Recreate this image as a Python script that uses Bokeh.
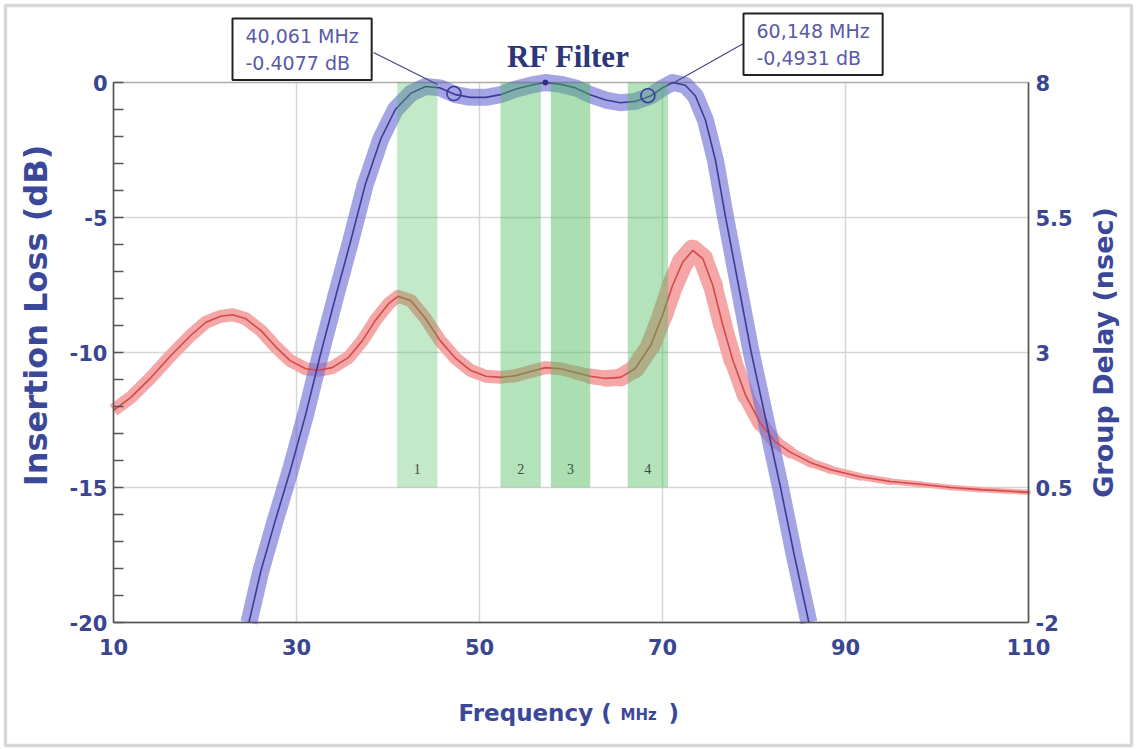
import numpy as np
from bokeh.plotting import figure
from bokeh.models import (Range1d, LinearAxis, FixedTicker, Label, Arrow,
                          BoxAnnotation, NumeralTickFormatter)
from bokeh.core.properties import value
from bokeh.embed import file_html
from bokeh.resources import INLINE

# ---------------- data ----------------
# Insertion loss (dB) vs frequency (MHz)
freq_il = [24.8, 26.1, 27.7, 29.3, 31.0, 32.6, 34.3, 35.9, 37.5, 39.2, 40.8,
           42.5, 44.1, 45.7, 47.4, 49.0, 50.7, 52.3, 53.9, 55.6, 57.2, 58.9,
           60.5, 62.1, 63.8, 65.4, 67.0, 68.7, 70.0, 71.1, 72.5, 73.6, 74.7,
           75.8, 76.9, 78.3, 79.7, 81.3, 82.9, 84.4, 86.0]
il_db = [-20.0, -18.1, -16.2, -14.4, -12.3, -10.1, -7.9, -5.9, -3.8, -2.1, -1.0,
         -0.4, -0.15, -0.2, -0.45, -0.55, -0.55, -0.45, -0.25, -0.1, 0.0, -0.07,
         -0.2, -0.45, -0.65, -0.75, -0.7, -0.5, -0.2, 0.0, -0.1, -0.5, -1.4,
         -2.9, -5.0, -7.5, -10.0, -12.5, -15.0, -17.5, -20.0]

# Group delay (nsec) vs frequency (MHz)
freq_gd = [10.0, 11.9, 14.0, 16.2, 18.4, 20.1, 21.7, 23.0, 24.4, 26.1, 27.7,
           29.3, 31.0, 32.4, 33.9, 35.7, 37.2, 38.6, 40.1, 41.1, 42.5, 44.1,
           45.7, 47.4, 49.0, 50.7, 52.3, 53.9, 55.6, 57.2, 58.9, 60.5, 62.1,
           63.8, 65.4, 67.0, 68.7, 70.0, 71.1, 72.2, 73.3, 74.4, 75.5, 76.6,
           77.7, 79.1, 80.7, 82.3, 84.0, 86.2, 88.4, 91.6, 94.9, 98.2, 101.5,
           104.8, 108.0, 110.0]
gd_ns = [1.93, 2.17, 2.52, 2.93, 3.31, 3.56, 3.67, 3.70, 3.63, 3.41, 3.11,
         2.85, 2.70, 2.67, 2.72, 2.91, 3.22, 3.59, 3.91, 4.04, 3.96, 3.63,
         3.22, 2.89, 2.67, 2.56, 2.54, 2.57, 2.65, 2.72, 2.70, 2.63, 2.56,
         2.52, 2.54, 2.70, 3.13, 3.69, 4.24, 4.67, 4.89, 4.74, 4.24, 3.50,
         2.85, 2.20, 1.69, 1.35, 1.15, 0.96, 0.83, 0.70, 0.61, 0.56, 0.50,
         0.46, 0.43, 0.41]

# Channel bands
band_start = [41.0, 52.3, 57.8, 66.2]
band_end = [45.4, 56.7, 62.1, 70.6]
band_top = [0, 0, 0, 0]
band_bottom = [-15, -15, -15, -15]
band_names = ["1", "2", "3", "4"]
band_label_db = -14.3

# Markers
marker_freq = [47.2, 68.4]
marker_db = [-0.41, -0.49]
marker_text = ["40,061 MHz\n-0.4077 dB", "60,148 MHz\n-0,4931 dB"]
peak_freq = [57.2]
peak_db = [0.0]

# Axes
x_ticks = [10, 30, 50, 70, 90, 110]
il_ticks = [0, -5, -10, -15, -20]
il_minor = [-1, -2, -3, -4, -6, -7, -8, -9, -11, -12, -13, -14, -16, -17, -18, -19]
gd_ticks = [8, 5.5, 3, 0.5, -2]
il_limits = (-20, 0)
gd_limits = (-2, 8)
x_limits = (10, 110)

# ---------------- layout ----------------
# the plotting frame covers the whole canvas; axes are pinned with fixed_location
W, H = 1136, 749
FL, FR, FT, FB = 113, 1028, 82, 622   # canvas pixels of the data box
PX_PER_DB = (FB - FT) / (il_limits[1] - il_limits[0])
PX_PER_MHZ = (FR - FL) / (x_limits[1] - x_limits[0])
gd_scale = (gd_limits[1] - gd_limits[0]) / (il_limits[1] - il_limits[0])


def cx(X):
    """canvas pixel column -> MHz"""
    return x_limits[0] + (X - FL) / PX_PER_MHZ


def cy(Y):
    """canvas pixel row -> dB"""
    return il_limits[1] - (Y - FT) / PX_PER_DB


def to_gd(db):
    return gd_limits[1] + (db - il_limits[1]) * gd_scale


LABEL_COL = "#3b4899"
TICK_COL = "#3a4690"
AX_COL = "#555555"

p = figure(width=W, height=H, x_range=Range1d(cx(0), cx(W)),
           y_range=Range1d(cy(H), cy(0)),
           output_backend="svg", toolbar_location=None, min_border=0,
           background_fill_color="white", border_fill_color="white")
p.title.visible = False
p.extra_y_ranges = {"gd": Range1d(to_gd(cy(H)), to_gd(cy(0)))}
p.outline_line_color = None

lax = p.left[0]
bax = p.below[0]
rax = LinearAxis(y_range_name="gd")
p.add_layout(rax, "right")

bax.ticker = FixedTicker(ticks=x_ticks)
bax.formatter = NumeralTickFormatter(format="0")
bax.fixed_location = il_limits[0]
bax.bounds = x_limits

lax.ticker = FixedTicker(ticks=il_ticks, minor_ticks=il_minor)
lax.formatter = NumeralTickFormatter(format="0")
lax.fixed_location = x_limits[0]
lax.bounds = il_limits

rax.ticker = FixedTicker(ticks=gd_ticks)
rax.formatter = NumeralTickFormatter(format="0.[0]")
rax.fixed_location = x_limits[1]
rax.bounds = gd_limits

for ax in (bax, lax, rax):
    ax.major_label_text_font = "DejaVu Sans"
    ax.major_label_text_font_style = "bold"
    ax.major_label_text_font_size = "21px"
    ax.major_label_text_color = TICK_COL
    ax.axis_line_color = AX_COL
    ax.axis_line_width = 1.5
    ax.major_tick_out = 0
    ax.minor_tick_out = 0

bax.major_tick_in = 0
bax.minor_tick_in = 0
bax.minor_tick_line_color = None
bax.major_label_standoff = 16

lax.major_tick_in = 10
lax.minor_tick_in = 10
lax.major_tick_line_color = AX_COL
lax.minor_tick_line_color = AX_COL
lax.major_tick_line_width = 1.5
lax.minor_tick_line_width = 1.5
lax.major_label_standoff = 6

rax.major_tick_in = 0
rax.minor_tick_line_color = None
rax.major_label_standoff = 7

p.xgrid.grid_line_color = "#d6d6d6"
p.xgrid.grid_line_width = 1.5
p.xgrid.cross_bounds = il_limits
p.ygrid.grid_line_color = "#d6d6d6"
p.ygrid.grid_line_width = 1.5
p.ygrid.cross_bounds = x_limits

# box around the data area and outer picture frame
p.add_layout(BoxAnnotation(left=x_limits[0], right=x_limits[1],
                           bottom=il_limits[0], top=il_limits[1],
                           fill_alpha=0, line_color=AX_COL, line_width=1.5))
p.add_layout(BoxAnnotation(left=cx(5), right=cx(W - 5), top=cy(5), bottom=cy(H - 4),
                           fill_alpha=0, line_color="#7a7a7a", line_width=3.5))

# ---------------- glyphs ----------------
f = np.array(freq_gd)
g = np.array(gd_ns)
# halo: constant part as one path (clean end at the left axis), tapering part as segments
k = int(np.searchsorted(f, 60.0))
p.line(f[:k + 1], g[:k + 1], y_range_name="gd", line_color="#f5a6a6",
       line_width=13, line_join="round", line_cap="butt")
ft, gt = f[k:], g[k:]
mid = (ft[:-1] + ft[1:]) / 2
halo_w = np.interp(mid, [60, 66, 72, 78, 86, 96, 110], [13, 18, 22, 18, 9, 6, 5])
p.segment(x0=ft[:-1], y0=gt[:-1], x1=ft[1:], y1=gt[1:], y_range_name="gd",
          line_color="#f5a6a6", line_width=halo_w, line_cap="round")

p.line(freq_il, il_db, line_color="#6e6ed6", line_alpha=0.62, line_width=17,
       line_join="round", line_cap="butt")

p.line(freq_gd, gd_ns, y_range_name="gd", line_color="#d24a4a", line_width=1.6)
p.line(freq_il, il_db, line_color="#3c3c98", line_width=1.6)

p.quad(left=band_start, right=band_end, top=band_top, bottom=band_bottom,
       fill_color="#4cbb5c", fill_alpha=[0.33, 0.42, 0.47, 0.42], line_color=None)
p.text(x=[(a + b) / 2 for a, b in zip(band_start, band_end)],
       y=[band_label_db] * 4, text=band_names,
       text_font=value("Liberation Serif"), text_font_size="14px",
       text_color="#3d4d44", text_align="center", text_baseline="middle")

p.scatter(marker_freq, marker_db, marker="circle", size=14, fill_alpha=0,
          line_color="#3c3ca0", line_width=1.6)
p.scatter(peak_freq, peak_db, marker="circle", size=5, fill_color="#2a2a80",
          line_color="#2a2a80")

# ---------------- text annotations ----------------
p.add_layout(Label(x=cx(568), y=cy(56), text="RF Filter",
                   text_align="center", text_baseline="middle",
                   text_font="Liberation Serif", text_font_style="bold",
                   text_font_size="31px", text_color="#2c3679"))

p.add_layout(Label(x=cx(35), y=cy(315), text="Insertion Loss (dB)", angle=np.pi / 2,
                   text_align="center", text_baseline="middle",
                   text_font="DejaVu Sans", text_font_style="bold",
                   text_font_size="32px", text_color=LABEL_COL))
p.add_layout(Label(x=cx(1103), y=cy(352), text="Group Delay (nsec)", angle=np.pi / 2,
                   text_align="center", text_baseline="middle",
                   text_font="DejaVu Sans", text_font_style="bold",
                   text_font_size="27px", text_color=LABEL_COL))

for txt, X, Y, size in [("Frequency (", 458, 712, "23px"), ("MHz", 620, 714, "15px"),
                        (")", 668, 712, "23px")]:
    p.add_layout(Label(x=cx(X), y=cy(Y), text=txt, text_align="left",
                       text_baseline="middle", text_font="DejaVu Sans",
                       text_font_style="bold", text_font_size=size,
                       text_color=LABEL_COL))

leaders = [((373, 52), (437, 84)), ((743, 43), (672, 83))]
for (lx0, ly0), (lx1, ly1) in leaders:
    p.add_layout(Arrow(end=None, x_start=cx(lx0), y_start=cy(ly0),
                       x_end=cx(lx1), y_end=cy(ly1),
                       line_color="#4a4a8a", line_width=1.3))

box_pos = [(232, 18), (743, 13)]
for (bx, by), txt in zip(box_pos, marker_text):
    common = dict(text=txt, text_align="left", text_baseline="top",
                  text_font="DejaVu Sans", text_font_size="19px",
                  text_line_height=1.25,
                  padding=dict(left=13, right=13, top=6, bottom=6))
    p.add_layout(Label(x=cx(bx + 3), y=cy(by + 3), text_alpha=0,
                       background_fill_color="#6e6e6e", **common))
    p.add_layout(Label(x=cx(bx), y=cy(by), text_color="#5a5aa6",
                       background_fill_color="white",
                       border_line_color="#222222", border_line_width=2, **common))

open("out.html", "w").write(file_html(p, INLINE))
